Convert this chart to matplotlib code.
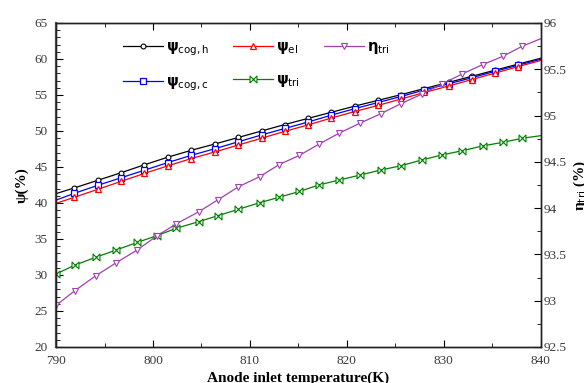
import matplotlib.pyplot as plt
from matplotlib.ticker import MultipleLocator, FormatStrFormatter

# Données
x_cog = [790, 791.9, 794.3, 796.7, 799.1, 801.5, 803.9, 806.4, 808.8, 811.2, 813.6,
         816.0, 818.4, 820.8, 823.2, 825.6, 828.0, 830.5, 832.9, 835.3, 837.7, 840]
psi_cog_h = [41.3, 42.1, 43.15, 44.2, 45.3, 46.35, 47.3, 48.2, 49.1, 50.0, 50.9,
             51.75, 52.6, 53.45, 54.25, 55.05, 55.9, 56.75, 57.6, 58.45, 59.3, 60.1]
psi_cog_c = [40.4, 41.35, 42.45, 43.5, 44.55, 45.6, 46.6, 47.55, 48.5, 49.45, 50.35,
             51.25, 52.2, 53.1, 53.95, 54.8, 55.7, 56.55, 57.4, 58.3, 59.15, 59.95]
psi_el = [39.95, 40.8, 41.9, 43.0, 44.1, 45.15, 46.15, 47.1, 48.05, 49.0, 49.95,
          50.85, 51.8, 52.7, 53.55, 54.45, 55.35, 56.25, 57.15, 58.05, 58.95, 59.8]

x_tri = [790, 791.96, 794.1, 796.2, 798.4, 800.4, 802.4, 804.7, 806.7, 808.8, 811.0, 813.0,
         815.1, 817.1, 819.2, 821.4, 823.5, 825.6, 827.7, 829.8, 831.9, 834.0, 836.1, 838.1, 840]
psi_tri = [30.14, 31.39, 32.46, 33.47, 34.54, 35.46, 36.49, 37.4, 38.24, 39.12, 40.04, 40.79,
           41.6, 42.5, 43.19, 43.89, 44.58, 45.18, 45.97, 46.67, 47.26, 47.92, 48.43, 48.99, 49.35]
eta_tri = [92.95, 93.11, 93.27, 93.41, 93.55, 93.70, 93.83, 93.96, 94.09, 94.23, 94.34, 94.47,
           94.57, 94.69, 94.81, 94.92, 95.02, 95.13, 95.23, 95.34, 95.45, 95.55, 95.64, 95.75, 95.83]

serif = ['Liberation Serif', 'DejaVu Serif']
tick_color = '#3a3a3a'
purple = '#a040b0'
bowtie = [(-1, -1), (-1, 1), (1, -1), (1, 1), (-1, -1)]

fig = plt.figure(figsize=(5.84, 3.83), dpi=100)
ax = fig.add_axes([0.096, 0.094, 0.830, 0.846])
ax2 = ax.twinx()

ax.plot(x_cog, psi_cog_h, color='black', lw=0.9, marker='o', ms=3.5, mfc='white',
        mew=0.8, markevery=slice(1, -1), label='ψ$_{\\mathrm{cog,h}}$')
ax.plot(x_cog, psi_cog_c, color='blue', lw=0.9, marker='s', ms=5, mfc='white',
        mew=0.9, markevery=slice(1, -1), label='ψ$_{\\mathrm{cog,c}}$')
ax.plot(x_cog, psi_el, color='red', lw=0.9, marker='^', ms=5, mfc='white',
        mew=0.9, markevery=slice(1, -1), label='ψ$_{\\mathrm{el}}$')
ax.plot(x_tri, psi_tri, color='green', lw=0.9, marker=bowtie, ms=5, mfc='white',
        mew=0.8, markevery=slice(0, -1), label='ψ$_{\\mathrm{tri}}$')
l5, = ax2.plot(x_tri, eta_tri, color=purple, lw=0.9, marker='v', ms=5, mfc='white',
               mew=0.8, markevery=slice(0, -1), label='η$_{\\mathrm{tri}}$')

# Axes
ax.set_xlim(790, 840)
ax.set_ylim(20, 65)
ax2.set_ylim(92.5, 96)
ax.xaxis.set_major_locator(MultipleLocator(10))
ax.xaxis.set_minor_locator(MultipleLocator(5))
ax.yaxis.set_major_locator(MultipleLocator(5))
ax.yaxis.set_minor_locator(MultipleLocator(1))
ax2.yaxis.set_major_locator(MultipleLocator(0.5))
ax2.yaxis.set_minor_locator(MultipleLocator(0.25))
ax2.yaxis.set_major_formatter(FormatStrFormatter('%g'))

ax.tick_params(which='both', direction='in', top=True, right=False, labelsize=9.5,
               labelcolor=tick_color, pad=6)
ax.tick_params(which='major', length=5)
ax.tick_params(which='minor', length=3)
ax2.tick_params(which='both', direction='in', labelsize=9.5, labelcolor=tick_color, pad=2)
ax2.tick_params(which='major', length=5)
ax2.tick_params(which='minor', length=3)

for a in (ax, ax2):
    for lab in a.get_xticklabels() + a.get_yticklabels():
        lab.set_family(serif)
    for s in a.spines.values():
        s.set_linewidth(1.0)
        s.set_color('#222222')
ax.spines['left'].set_linewidth(1.6)
ax.spines['left'].set_color('#555555')

ax.set_xlabel('Anode inlet temperature(K)', fontsize=11, fontweight='bold',
              family=serif, labelpad=3)
ax.set_ylabel('ψ(%)', fontsize=11, fontweight='bold', family=serif, labelpad=4)
ax2.set_ylabel('η$_{\\mathrm{tri}}$ (%)', fontsize=11, fontweight='bold', family=serif,
               rotation=90, labelpad=4)

# Légende
h1, lab1 = ax.get_legend_handles_labels()
handles = h1 + [l5]
labels = lab1 + [l5.get_label()]
ax.legend(handles, labels, ncol=3, frameon=False, loc='upper left',
          bbox_to_anchor=(0.11, 0.99), labelspacing=1.1, columnspacing=1.6,
          handlelength=2.8, handletextpad=0.2,
          prop={'family': 'DejaVu Sans', 'weight': 'bold', 'size': 10.5})

plt.savefig('out.png', dpi=100)
